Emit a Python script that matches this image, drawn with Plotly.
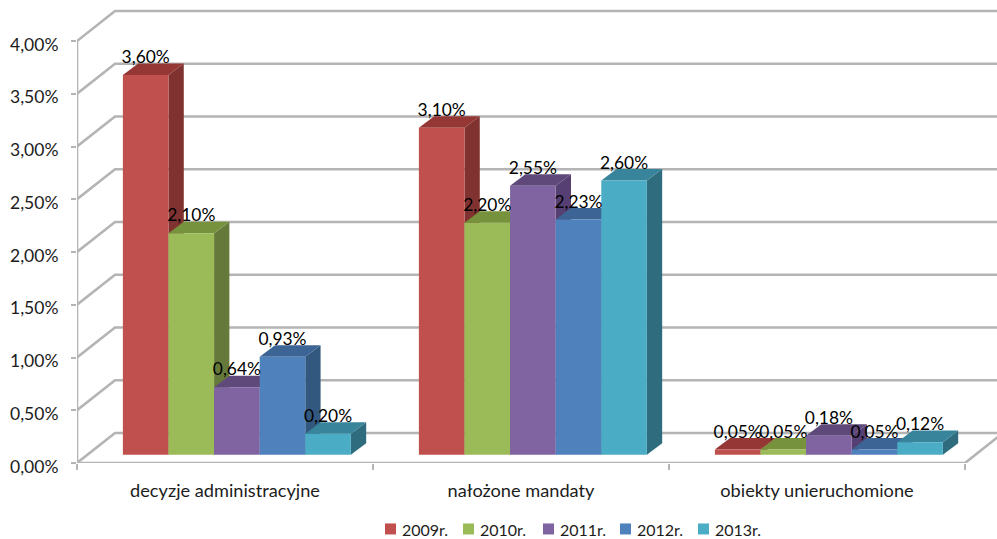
import plotly.graph_objects as go

# Survey results by category and year
categories = ["decyzje administracyjne", "nałożone mandaty", "obiekty unieruchomione"]
years = ["2009r.", "2010r.", "2011r.", "2012r.", "2013r."]
v2009 = [3.60, 3.10, 0.05]
v2010 = [2.10, 2.20, 0.05]
v2011 = [0.64, 2.55, 0.18]
v2012 = [0.93, 2.23, 0.05]
v2013 = [0.20, 2.60, 0.12]
series = [v2009, v2010, v2011, v2012, v2013]
y_ticks = [0, 0.5, 1, 1.5, 2, 2.5, 3, 3.5, 4]

front = ["#c0504d", "#9bbb59", "#8064a2", "#4f81bd", "#4bacc6"]
top = ["#953735", "#76923c", "#5f497a", "#3c6494", "#37849b"]
side = ["#7f3230", "#65793a", "#563f72", "#33587f", "#2f6d7e"]

GRID = "#b4b4b4"
FONT = "Lato, Carlito, sans-serif"
TEXT = "#1c1c1c"

# Pixel scale of each axis, and the oblique projection used for the 3D look
PX_X, PX_Y = 296.0, 105.4
WALL_DX, WALL_DY = 38 / PX_X, 30 / PX_Y
BAR_DX, BAR_DY = 15.3 / PX_X, 11.5 / PX_Y
FLOOR = 8.2 / PX_Y
BAR_W = 45.6 / PX_X
BAR_START = 0.155
LABEL_LIFT = 16.2 / PX_Y

PLOT_H = 462.6
PLOT_W = 920


def paper_x(px):
    return (px - 77) / PLOT_W


def paper_y(py):
    return (PLOT_H - py) / PLOT_H


fig = go.Figure()


def poly(xs, ys, color):
    fig.add_trace(go.Scatter(
        x=xs + xs[:1], y=ys + ys[:1], mode="lines", fill="toself", fillcolor=color,
        line=dict(width=0, color=color), hoverinfo="skip", showlegend=False, cliponaxis=False,
    ))


def wall_line(xs, ys):
    fig.add_trace(go.Scatter(
        x=xs, y=ys, mode="lines", line=dict(color=GRID, width=2.6),
        hoverinfo="skip", showlegend=False, cliponaxis=False,
    ))


# Back wall gridlines and their diagonals down the side wall
for t in y_ticks:
    wall_line([0, WALL_DX, 3 + WALL_DX], [t, t + WALL_DY, t + WALL_DY])
# Front axis edge, floor edge and right-hand floor diagonal
wall_line([0, 0], [0, 4])
wall_line([0, 3, 3 + WALL_DX], [0, 0, WALL_DY])

# Bars drawn left to right so nearer faces overlap correctly
for g in range(len(categories)):
    for s, vals in enumerate(series):
        x0 = g + BAR_START + s * BAR_W
        x1 = x0 + BAR_W
        y0 = FLOOR
        y1 = FLOOR + vals[g]
        poly([x1, x1 + BAR_DX, x1 + BAR_DX, x1], [y0, y0 + BAR_DY, y1 + BAR_DY, y1], side[s])
        poly([x0, x1, x1 + BAR_DX, x0 + BAR_DX], [y1, y1, y1 + BAR_DY, y1 + BAR_DY], top[s])
        poly([x0, x1, x1, x0], [y0, y0, y1, y1], front[s])

# Value labels above each bar
for g in range(len(categories)):
    for s, vals in enumerate(series):
        x0 = g + BAR_START + s * BAR_W
        fig.add_trace(go.Scatter(
            x=[x0 + BAR_W / 2], y=[FLOOR + vals[g] + LABEL_LIFT], mode="text",
            text=[f"{vals[g]:.2f}%".replace(".", ",")], textposition="middle center",
            textfont=dict(family=FONT, size=17.4, color="#000000"),
            hoverinfo="skip", showlegend=False, cliponaxis=False,
        ))

# Value axis labels, sitting slightly below their gridline
for t in y_ticks:
    fig.add_annotation(xref="paper", yref="y", x=0, y=t, xshift=-18, yshift=-3,
                       text=f"{t:.2f}%".replace(".", ","), showarrow=False,
                       xanchor="right", yanchor="middle", borderpad=0,
                       font=dict(family=FONT, size=17.5, color=TEXT))

# Legend row along the bottom
legend_x = [385, 463, 543, 620, 698]
for name, color, lx in zip(years, front, legend_x):
    fig.add_shape(type="rect", xref="paper", yref="paper",
                  x0=paper_x(lx), x1=paper_x(lx + 11),
                  y0=paper_y(534), y1=paper_y(523),
                  fillcolor=color, line_width=0)
    fig.add_annotation(xref="paper", yref="paper", x=paper_x(lx + 15.5), y=paper_y(529.5),
                       text=name, showarrow=False, xanchor="left", yanchor="middle", borderpad=0,
                       font=dict(family=FONT, size=16, color=TEXT))

fig.update_layout(
    width=997, height=539, autosize=False,
    margin=dict(l=77, r=0, t=0, b=76.4),
    paper_bgcolor="white", plot_bgcolor="white", showlegend=False,
    font=dict(family=FONT, size=17, color=TEXT),
    xaxis=dict(
        range=[0, PLOT_W / PX_X], showgrid=False, zeroline=False, showline=False,
        tickmode="array", tickvals=[0.5, 1.5, 2.5], ticktext=categories,
        ticks="", ticklabelstandoff=15, tickfont=dict(size=18.2),
        minor=dict(tickmode="array", tickvals=[0, 1, 2, 3], ticks="outside",
                   ticklen=6, tickwidth=2, tickcolor=GRID),
    ),
    yaxis=dict(
        range=[0, PLOT_H / PX_Y], showgrid=False, zeroline=False, showline=False,
        tickmode="array", tickvals=y_ticks, ticks="outside", ticklen=5,
        tickwidth=2, tickcolor=GRID, showticklabels=False,
    ),
)

fig.write_html("out.html")
